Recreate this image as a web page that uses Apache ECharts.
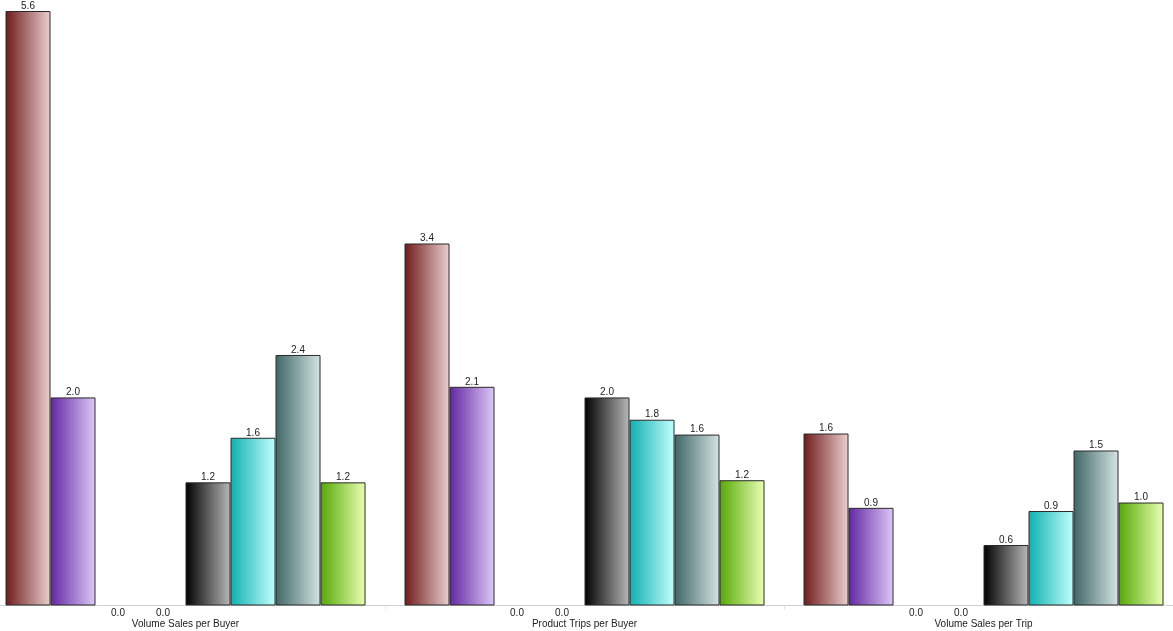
<!DOCTYPE html>
<html>
<head>
<meta charset="utf-8">
<script src="https://cdn.jsdelivr.net/npm/echarts@6/dist/echarts.min.js"></script>
<style>html,body{margin:0;padding:0;background:#fff}#c{width:1173px;height:631px}</style>
</head>
<body>
<div id="c"></div>
<script>
var categories = ['Volume Sales per Buyer', 'Product Trips per Buyer', 'Volume Sales per Trip'];
var s1 = [5.6, 3.41, 1.62];
var s2 = [1.96, 2.06, 0.92];
var s3 = [0, 0, 0];
var s4 = [0, 0, 0];
var s5 = [1.16, 1.96, 0.57];
var s6 = [1.58, 1.75, 0.89];
var s7 = [2.36, 1.61, 1.46];
var s8 = [1.16, 1.18, 0.97];
var seriesData = [s1, s2, s3, s4, s5, s6, s7, s8];
var gradients = [
  ['#6e1a1a', '#ead0d0'],
  ['#6226a2', '#ddc9f6'],
  ['#1f3a7a', '#c8d4f0'],
  ['#7a5a10', '#f0e0b0'],
  ['#000000', '#b8b8b8'],
  ['#0eb0b0', '#c4fefe'],
  ['#3e6666', '#d6e4e4'],
  ['#56a806', '#eaffb4']
];
var chart = echarts.init(document.getElementById('c'), null, {renderer: 'canvas'});
var series = seriesData.map(function (arr, i) {
  return {
    type: 'bar',
    barWidth: 45,
    barGap: '0%',
    data: arr.map(function (v) {
      if (v === 0) {
        return {value: 0, itemStyle: {borderWidth: 0, color: 'rgba(0,0,0,0)'}, label: {position: 'bottom', distance: 3}};
      }
      return v;
    }),
    itemStyle: {
      color: new echarts.graphic.LinearGradient(0, 0, 1, 0, [
        {offset: 0, color: gradients[i][0]},
        {offset: 1, color: gradients[i][1]}
      ]),
      borderColor: '#2a2a2a',
      borderWidth: 1
    },
    label: {
      show: true,
      position: 'top',
      distance: 0,
      fontFamily: 'Liberation Sans, Arial, sans-serif',
      fontSize: 10,
      color: '#222',
      formatter: function (p) { return Number(p.value).toFixed(1); }
    },
    animation: false
  };
});
chart.setOption({
  animation: false,
  grid: {left: -14, right: -10, top: 11, bottom: 25.5, containLabel: false, outerBoundsMode: 'none'},
  xAxis: {
    type: 'category',
    data: categories,
    axisLine: {show: true, lineStyle: {color: '#d0d0d0', width: 1}},
    axisTick: {show: true, length: 4, lineStyle: {color: '#dce6f2'}},
    axisLabel: {
      fontFamily: 'Liberation Sans, Arial, sans-serif',
      fontSize: 10,
      color: '#222',
      margin: 14
    }
  },
  yAxis: {
    type: 'value',
    min: 0,
    max: 5.6,
    show: false,
    splitLine: {show: false}
  },
  series: series
});
</script>
</body>
</html>
